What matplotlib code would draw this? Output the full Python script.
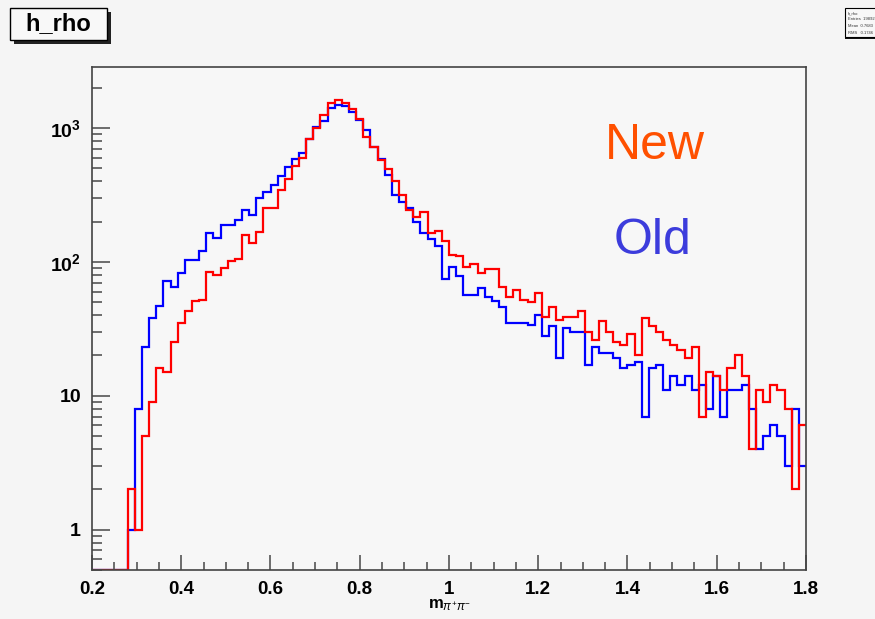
import numpy as np
import matplotlib.pyplot as plt
from matplotlib.patches import Rectangle
from matplotlib.ticker import FixedLocator, LogLocator, NullFormatter, MultipleLocator

plt.rcParams['font.family'] = ['Liberation Sans', 'DejaVu Sans']
plt.rcParams['mathtext.fontset'] = 'custom'
plt.rcParams['mathtext.rm'] = 'Liberation Sans'
plt.rcParams['mathtext.bf'] = 'Liberation Sans:bold'
plt.rcParams['mathtext.it'] = 'Liberation Sans:italic'

# histogram binning: 100 bins between 0.2 and 1.8
x_min, x_max, n_bins = 0.2, 1.8, 100

old_counts = [
    0, 0, 0, 0, 0, 1, 8, 23, 38, 47,
    72, 65, 82, 103, 104, 121, 164, 150, 187, 187,
    206, 244, 224, 299, 335, 376, 439, 514, 583, 647,
    824, 1023, 1128, 1418, 1485, 1460, 1323, 1147, 966, 725,
    583, 446, 316, 282, 251, 200, 164, 148, 131, 75,
    92, 78, 57, 57, 64, 55, 51, 46, 35, 35,
    35, 34, 40, 28, 33, 19, 32, 30, 30, 17,
    23, 21, 21, 19, 16, 17, 18, 7, 16, 17,
    11, 14, 12, 14, 11, 12, 8, 14, 7, 11,
    11, 12, 8, 4, 5, 6, 5, 3, 8, 3,
]
new_counts = [
    0, 0, 0, 0, 0, 2, 1, 5, 9, 16,
    15, 25, 35, 43, 51, 52, 84, 80, 90, 102,
    105, 159, 138, 166, 251, 251, 344, 414, 520, 593,
    828, 1005, 1250, 1545, 1619, 1528, 1380, 1161, 861, 725,
    577, 492, 398, 316, 242, 218, 236, 164, 171, 142,
    113, 110, 91, 97, 82, 88, 88, 65, 55, 62,
    52, 50, 59, 39, 46, 37, 39, 39, 43, 30,
    26, 36, 30, 25, 24, 29, 20, 38, 33, 30,
    26, 24, 22, 19, 23, 7, 15, 14, 11, 16,
    20, 14, 4, 11, 9, 12, 11, 8, 2, 6,
]

x_ticks = [0.2, 0.4, 0.6, 0.8, 1.0, 1.2, 1.4, 1.6, 1.8]
x_tick_labels = ['0.2', '0.4', '0.6', '0.8', '1', '1.2', '1.4', '1.6', '1.8']
y_ticks = [1, 10, 100, 1000]
y_tick_labels = ['1', '10', r'$\mathbf{10^{2}}$', r'$\mathbf{10^{3}}$']
y_min, y_max = 0.5, 2850

edges = np.linspace(x_min, x_max, n_bins + 1)

fig = plt.figure(figsize=(8.75, 6.19), dpi=100, facecolor='#f5f5f5')
ax = fig.add_axes([92 / 875, 1 - 570 / 619, (806 - 92) / 875, (570 - 67) / 619])
ax.set_facecolor('#f7f7f7')

# empty bins sit on the lower edge of the frame, as in a log-scale ROOT plot
for counts, color in [(old_counts, '#0000ff'), (new_counts, '#ff0000')]:
    c = np.asarray(counts, dtype=float)
    c = np.where(c > 0, c, y_min)
    ax.stairs(c, edges, baseline=None, color=color, linewidth=1.6)

ax.set_yscale('log')
ax.set_xlim(x_min, x_max)
ax.set_ylim(y_min, y_max)

ax.xaxis.set_major_locator(FixedLocator(x_ticks))
ax.set_xticklabels(x_tick_labels)
ax.xaxis.set_minor_locator(MultipleLocator(0.05))
ax.yaxis.set_major_locator(FixedLocator(y_ticks))
ax.set_yticklabels(y_tick_labels)
ax.yaxis.set_minor_locator(LogLocator(base=10, subs=np.arange(2, 10)))
ax.yaxis.set_minor_formatter(NullFormatter())

ax.tick_params(axis='both', which='both', direction='in', color='#555555',
               width=1.2, top=False, right=False)
ax.tick_params(axis='x', which='major', length=11, pad=8, labelsize=13.5)
ax.tick_params(axis='x', which='minor', length=6)
ax.tick_params(axis='y', which='major', length=13, pad=8, labelsize=14)
ax.tick_params(axis='y', which='minor', length=7)
for lbl in ax.get_xticklabels() + ax.get_yticklabels():
    lbl.set_fontweight('bold')
for sp in ax.spines.values():
    sp.set_color('#444444')
    sp.set_linewidth(1.2)

fig.text(449 / 875, 1 - 608 / 619, r'$\mathbf{m}_{\pi^{+}\pi^{-}}$',
         ha='center', va='baseline', fontsize=12)

fig.text(655 / 875, 1 - 159 / 619, 'New', color='#ff5000', fontsize=36,
         ha='center', va='baseline')
fig.text(653 / 875, 1 - 254 / 619, 'Old', color='#3c3cdc', fontsize=36,
         ha='center', va='baseline')

# title box with drop shadow
fig.patches.append(Rectangle((14 / 875, 1 - 44 / 619), 97 / 875, 32 / 619,
                             transform=fig.transFigure, facecolor='#222222',
                             edgecolor='none', zorder=1))
fig.patches.append(Rectangle((10 / 875, 1 - 40 / 619), 97 / 875, 32 / 619,
                             transform=fig.transFigure, facecolor='#f8f8f8',
                             edgecolor='#000000', linewidth=1, zorder=2))
fig.text(58 / 875, 1 - 24 / 619, 'h_rho', fontsize=17, fontweight='bold',
         ha='center', va='center', zorder=3)

# statistics box, mostly off the right edge of the canvas
fig.patches.append(Rectangle((845 / 875, 1 - 39 / 619), 40 / 875, 3 / 619,
                             transform=fig.transFigure, facecolor='#111111',
                             edgecolor='none', zorder=1))
fig.patches.append(Rectangle((845 / 875, 1 - 37 / 619), 40 / 875, 29 / 619,
                             transform=fig.transFigure, facecolor='#f8f8f8',
                             edgecolor='#000000', linewidth=0.8, zorder=2))
for i, s in enumerate(['h_rho', 'Entries  19892', 'Mean  0.7683', 'RMS   0.1746']):
    fig.text(848 / 875, 1 - (13 + 6.5 * i) / 619, s, fontsize=3,
             ha='left', va='center', zorder=3, color='#333333')

fig.savefig('out.png', dpi=100, facecolor=fig.get_facecolor())
